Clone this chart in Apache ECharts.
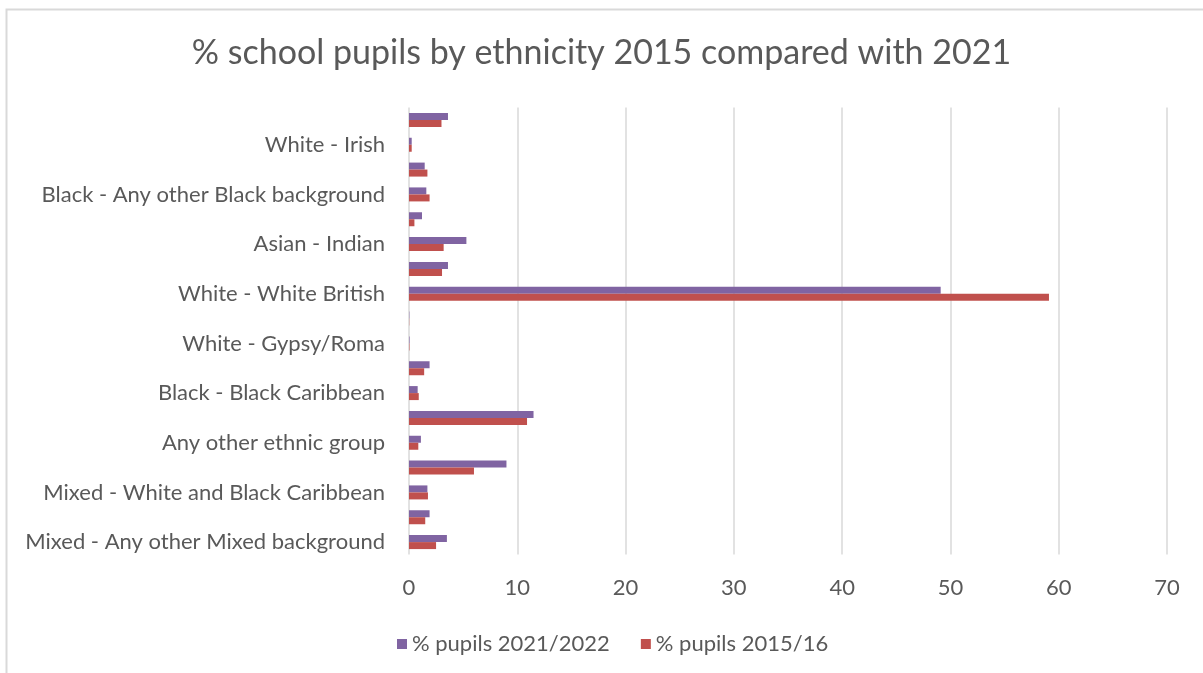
<!DOCTYPE html>
<html>
<head>
<meta charset="utf-8">
<title>% school pupils by ethnicity</title>
<script src="https://cdn.jsdelivr.net/npm/echarts@6/dist/echarts.min.js"></script>
<style>
  html, body { margin: 0; padding: 0; background: #fff; }
  #main { width: 1203px; height: 673px; }
</style>
</head>
<body>
<div id="main"></div>
<script>
// categories, bottom to top (Excel order); only every other one gets a label
const categories = [
  "Mixed - Any other Mixed background",
  "Mixed - White and Asian",
  "Mixed - White and Black Caribbean",
  "Mixed - White and Black African",
  "Any other ethnic group",
  "Black - Black African",
  "Black - Black Caribbean",
  "Asian - Bangladeshi",
  "White - Gypsy/Roma",
  "White - Traveller of Irish heritage",
  "White - White British",
  "White - Any other White background",
  "Asian - Indian",
  "Asian - Pakistani",
  "Black - Any other Black background",
  "Chinese",
  "White - Irish",
  "Asian - Any other Asian background",
];

const pupils2021 = [3.5, 1.9, 1.7, 9.0, 1.1, 11.5, 0.8, 1.9, 0.05, 0.03, 49.1, 3.6, 5.3, 1.2, 1.6, 1.45, 0.25, 3.6];
const pupils2015 = [2.5, 1.5, 1.75, 6.0, 0.86, 10.9, 0.9, 1.4, 0.04, 0.02, 59.1, 3.05, 3.2, 0.5, 1.9, 1.7, 0.25, 3.0];

const xTicks = { min: 0, max: 70, interval: 10 };

const textColor = "#595959";
const font = "Lato, 'Open Sans', sans-serif";

const chart = echarts.init(document.getElementById("main"));

const options = {
  backgroundColor: "#fff",
  animation: false,
  textStyle: { fontFamily: font },
  title: {
    text: "% school pupils by ethnicity 2015 compared with 2021",
    left: "center",
    top: 31,
    textStyle: {
      color: textColor,
      fontSize: 34,
      fontWeight: "normal",
      fontFamily: font,
    },
  },
  graphic: [
    {
      type: "rect",
      silent: true,
      shape: { x: 6.5, y: 9.5, width: 1220, height: 700 },
      style: { fill: null, stroke: "#d9d9d9", lineWidth: 2 },
    },
  ],
  legend: {
    left: 392,
    top: 628,
    icon: "rect",
    itemWidth: 10,
    itemHeight: 10,
    itemGap: 31,
    textStyle: { color: textColor, fontSize: 22, fontFamily: font },
    data: ["% pupils 2021/2022", "% pupils 2015/16"],
  },
  grid: {
    left: 409,
    right: 36,
    top: 107.5,
    bottom: 118.5,
    containLabel: false,
  },
  xAxis: {
    type: "value",
    min: xTicks.min,
    max: xTicks.max,
    interval: xTicks.interval,
    axisLine: { show: false },
    axisTick: { show: false },
    axisLabel: { color: textColor, fontSize: 22, margin: 22, fontFamily: font },
    splitLine: { lineStyle: { color: "#d9d9d9", width: 1.5 } },
  },
  yAxis: {
    type: "category",
    data: categories,
    axisLine: { show: false },
    axisTick: { show: false },
    axisLabel: {
      interval: 1,
      color: textColor,
      fontSize: 22,
      margin: 24,
      fontFamily: font,
    },
  },
  series: [
    {
      name: "% pupils 2021/2022",
      type: "bar",
      data: pupils2021,
      color: "#8064A2",
      barWidth: 7,
      barGap: "0%",
    },
    {
      name: "% pupils 2015/16",
      type: "bar",
      data: pupils2015,
      color: "#C0504D",
      barWidth: 7,
      barGap: "0%",
    },
  ],
};

chart.setOption(options);
</script>
</body>
</html>
